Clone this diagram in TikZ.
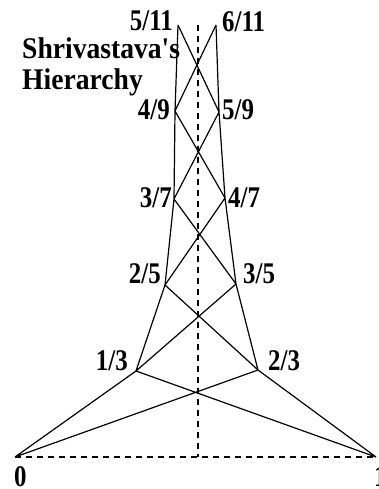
\documentclass[tikz,border=0pt]{standalone}
\usepackage{fontspec}
\newfontfamily\lblfont[FakeStretch=0.83]{Liberation Serif}
\newfontfamily\ttlfont[FakeStretch=0.92]{Liberation Serif}
\begin{document}
\begin{tikzpicture}[x=1pt,y=-1pt,
  edge/.style={line width=1.2pt},
  axis/.style={line width=1.2pt,dash pattern=on 6pt off 5pt},
  lbl/.style={inner sep=0pt,font=\lblfont\bfseries\fontsize{30}{32}\selectfont},
  ttl/.style={inner sep=0pt,font=\ttlfont\bfseries\fontsize{30}{32}\selectfont}]
\useasboundingbox (0,0) rectangle (378,489);
\coordinate (z) at (15,457);
\coordinate (o) at (376,457);
\coordinate (a13) at (136,371);
\coordinate (a23) at (258,370);
\coordinate (a25) at (165,285);
\coordinate (a35) at (236,284);
\coordinate (a37) at (174,199);
\coordinate (a47) at (225,198);
\coordinate (a49) at (175,111);
\coordinate (a59) at (219,112);
\coordinate (a511) at (178,25);
\coordinate (a611) at (216,25);
\coordinate (top) at (198,25);
\coordinate (bot) at (198,457);
\draw[axis] (z) -- (o);
\draw[axis] (top) -- (bot);
\draw[edge] (z) -- (a13) (z) -- (a23) (o) -- (a13) (o) -- (a23);
\draw[edge] (a13) -- (a25) (a13) -- (a35) (a23) -- (a25) (a23) -- (a35);
\draw[edge] (a25) -- (a37) (a25) -- (a47) (a35) -- (a37) (a35) -- (a47);
\draw[edge] (a37) -- (a49) (a37) -- (a59) (a47) -- (a49) (a47) -- (a59);
\draw[edge] (a49) -- (a511) (a49) -- (a611) (a59) -- (a511) (a59) -- (a611);
\node[lbl,anchor=base east] (l511) at (173,31) {5/11};
\node[lbl,anchor=base west] (l611) at (222,32) {6/11};
\node[ttl,anchor=base west] (t1) at (22,59) {Shrivastava's};
\node[ttl,anchor=base west] (t2) at (22,90) {Hierarchy};
\node[lbl,anchor=base east] (l49) at (170,120) {4/9};
\node[lbl,anchor=base west] (l59) at (222,120) {5/9};
\node[lbl,anchor=base east] (l37) at (172,207) {3/7};
\node[lbl,anchor=base west] (l47) at (228,207) {4/7};
\node[lbl,anchor=base east] (l25) at (161,283) {2/5};
\node[lbl,anchor=base west] (l35) at (243,283) {3/5};
\node[lbl,anchor=base east] (l13) at (128,370) {1/3};
\node[lbl,anchor=base west] (l23) at (268,370) {2/3};
\node[lbl,anchor=base west] (l0) at (14,486) {0};
\node[lbl,anchor=base west] (l1) at (374,486) {1};
\end{tikzpicture}
\end{document}
